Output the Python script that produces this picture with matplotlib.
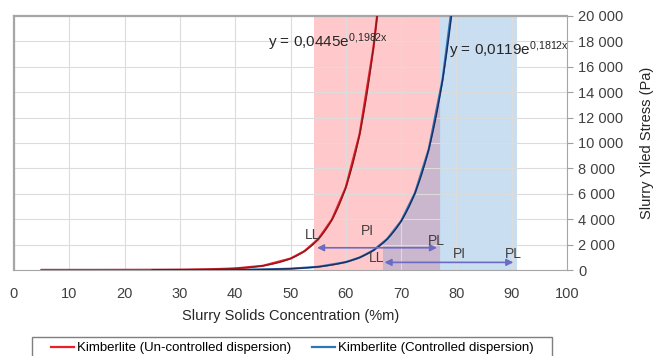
import numpy as np
import matplotlib.pyplot as plt
from matplotlib.patches import Rectangle
from matplotlib.ticker import FuncFormatter

plt.rcParams["font.family"] = ["Liberation Sans", "DejaVu Sans"]
plt.rcParams["mathtext.default"] = "regular"

# measured yield stress (Pa) vs solids concentration (%m)
unctrl_x = [5, 10, 15, 20, 25, 30, 35, 40, 45, 50, 52.5, 55, 57.5, 60, 62.5, 65, 66]
unctrl_y = [0, 0, 0, 5, 10, 20, 50, 120, 330, 900, 1480, 2420, 3980, 6500, 10700, 17500, 21300]
ctrl_x = [5, 10, 15, 20, 25, 30, 35, 40, 45, 50, 55, 60, 62.5, 65, 67.5, 70, 72.5, 75, 77.5, 80]
ctrl_y = [0, 0, 0, 0, 0, 5, 10, 20, 40, 100, 250, 620, 980, 1550, 2450, 3850, 6050, 9500, 15000, 23500]

# exponential trendlines y = a*exp(b*x) as printed on the chart
unctrl_fit = (0.0445, 0.1982)
ctrl_fit = (0.0119, 0.1812)

# consistency windows (LL -> PL)
unctrl_window = (54.3, 77.0)
ctrl_window = (66.5, 90.8)
ctrl_shade = (77.0, 91.0)

fig = plt.figure(figsize=(6.59, 3.56), dpi=100)
ax = fig.add_axes([14 / 659, 1 - 270 / 356, (567 - 14) / 659, (270 - 16) / 356])

ax.axvspan(unctrl_window[0], unctrl_window[1], color="#ffc9cb", lw=0, zorder=0)
ax.axvspan(ctrl_shade[0], ctrl_shade[1], color="#c9def0", lw=0, zorder=0)

xf = np.linspace(25, 80, 400)
yc = ctrl_fit[0] * np.exp(ctrl_fit[1] * xf)
m = (xf >= ctrl_window[0]) & (xf <= unctrl_window[1])
ax.fill_between(xf[m], 0, np.minimum(yc[m], 20000), color="#8aa0d0", alpha=0.45, lw=0, zorder=0.5)

ax.plot(ctrl_x, ctrl_y, color="#2e75b6", lw=1.6, label="Kimberlite (Controlled dispersion)", zorder=3)
ax.plot(unctrl_x, unctrl_y, color="#e8202a", lw=1.6, label="Kimberlite (Un-controlled dispersion)", zorder=3)
ax.plot(xf, unctrl_fit[0] * np.exp(unctrl_fit[1] * xf), color="#8b1a1f", lw=1.0, zorder=4)
ax.plot(xf, yc, color="#1f2b5e", lw=1.0, zorder=4)

arrow_kw = dict(arrowstyle="<|-|>", color="#6b6bc4", lw=1.2, mutation_scale=10)
ax.annotate("", xy=(unctrl_window[0], 1750), xytext=(unctrl_window[1], 1750), arrowprops=arrow_kw, zorder=5)
ax.annotate("", xy=(ctrl_window[0], 600), xytext=(ctrl_window[1], 600), arrowprops=arrow_kw, zorder=5)

lab = dict(fontsize=10, color="#404040", ha="center", va="center", zorder=6)
ax.text(54.0, 2750, "LL", **lab)
ax.text(64.0, 3050, "PI", **lab)
ax.text(76.3, 2300, "PL", **lab)
ax.text(65.6, 950, "LL", **lab)
ax.text(80.6, 1250, "PI", **lab)
ax.text(90.3, 1250, "PL", **lab)

eq = dict(fontsize=11, color="#262626", ha="center", va="center", zorder=6)
ax.text(56.8, 17900, "y = 0,0445e$^{0{,}1982x}$", **eq)
ax.text(89.5, 17300, "y = 0,0119e$^{0{,}1812x}$", **eq)

ax.set_xlim(0, 100)
ax.set_ylim(0, 20000)
ax.set_xticks(range(0, 101, 10))
ax.set_yticks(range(0, 20001, 2000))
ax.yaxis.set_major_formatter(FuncFormatter(lambda v, p: f"{int(v):,}".replace(",", " ")))
ax.yaxis.tick_right()
ax.yaxis.set_label_position("right")
ax.tick_params(axis="x", length=0, pad=12, labelsize=10.5, labelcolor="#404040")
ax.tick_params(axis="y", length=4, color="#a0a0a0", pad=4, labelsize=10.5, labelcolor="#404040")
ax.grid(True, color="#dcdcdc", lw=0.8, zorder=-1)
ax.set_axisbelow(True)
for s in ax.spines.values():
    s.set_color("#a6a6a6")
ax.spines["left"].set_linewidth(1.6)
ax.spines["top"].set_linewidth(1.6)

ax.set_xlabel("Slurry Solids Concentration (%m)", fontsize=10.5, color="#262626", labelpad=6)
ax.set_ylabel("Slurry Yiled Stress (Pa)", fontsize=10.5, color="#262626", labelpad=12)

# legend box sits at the bottom edge and is clipped by it, like the source image
fig.patches.append(Rectangle((32 / 659, -0.05), 520 / 659, 0.05 + 1 - 337 / 356,
                             transform=fig.transFigure, fill=False, edgecolor="#7f7f7f", lw=1.0))
h, l = ax.get_legend_handles_labels()
fig.legend([h[1], h[0]], [l[1], l[0]], ncol=2, loc="center",
           bbox_to_anchor=(292 / 659, 1 - 348 / 356), fontsize=9.5, frameon=False,
           handlelength=1.75, handletextpad=0.2, columnspacing=1.6, borderpad=0, borderaxespad=0)

fig.savefig("out.png", dpi=100)
